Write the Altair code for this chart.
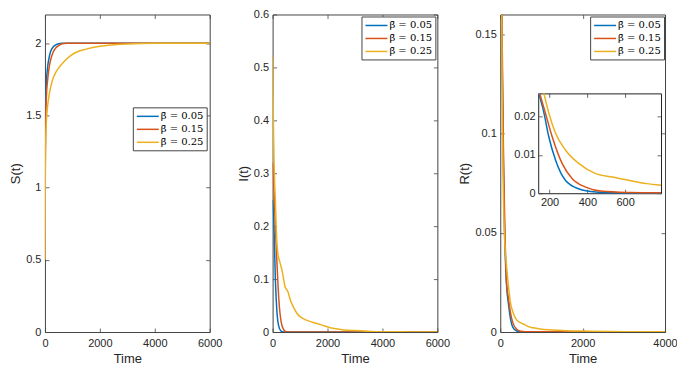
import altair as alt
import pandas as pd

SERIES = ["β̄ = 0.05", "β̄ = 0.15", "β̄ = 0.25"]
COLORS = ["#0072BD", "#D95319", "#EDB120"]

# ---- S(t) ----
s_t_b = [0, 10, 25, 50, 100, 150, 200, 300, 400, 500, 600, 6000]
s_v_b = [0.5, 1.2, 1.55, 1.72, 1.84, 1.9, 1.94, 1.975, 1.99, 1.997, 2.0, 2.0]
s_t_r = [0, 10, 25, 50, 100, 150, 200, 300, 400, 500, 600, 800, 6000]
s_v_r = [0.5, 1.1, 1.45, 1.62, 1.75, 1.83, 1.88, 1.94, 1.97, 1.985, 1.995, 2.0, 2.0]
s_t_y = [0, 10, 25, 50, 100, 150, 200, 300, 400, 500, 700, 900, 1100, 1500, 2000, 2500, 3000, 4000, 6000]
s_v_y = [0.5, 1.0, 1.3, 1.45, 1.57, 1.64, 1.69, 1.76, 1.8, 1.83, 1.875, 1.91, 1.935, 1.96, 1.98, 1.99, 1.996, 2.0, 2.0]

# ---- I(t) ----
i_t_b = [0, 50, 100, 133, 170, 220, 300, 400, 6000]
i_v_b = [0.25, 0.2, 0.1, 0.06, 0.03, 0.012, 0.002, 0.0, 0.0]
i_t_r = [0, 50, 100, 150, 200, 229, 270, 320, 400, 470, 600, 6000]
i_v_r = [0.32, 0.27, 0.2, 0.14, 0.085, 0.06, 0.035, 0.017, 0.005, 0.001, 0.0, 0.0]
i_t_y = [0, 15, 30, 50, 75, 100, 130, 170, 220, 260, 300, 350, 400, 450, 500, 550, 650, 750,
         890, 1000, 1130, 1300, 1615, 1800, 1980, 2300, 2570, 3170, 3600, 4000, 5000, 6000]
i_v_y = [0.52, 0.45, 0.39, 0.33, 0.28, 0.25, 0.2, 0.158, 0.14, 0.133, 0.125, 0.115, 0.1, 0.086, 0.081, 0.077, 0.06, 0.048,
         0.035, 0.029, 0.025, 0.021, 0.016, 0.013, 0.01, 0.006, 0.004, 0.0025, 0.0012, 0.0006, 0.0002, 0.0001]

# ---- R(t) ----
r_t_b = [0, 25, 50, 75, 100, 150, 200, 250, 300, 400, 500, 4000]
r_v_b = [0.3, 0.2, 0.13, 0.085, 0.055, 0.0245, 0.014, 0.0065, 0.0026, 0.0005, 0.0001, 0.0]
r_t_r = [0, 25, 50, 75, 100, 150, 200, 250, 300, 400, 500, 700, 4000]
r_v_r = [0.3, 0.21, 0.14, 0.095, 0.065, 0.0257, 0.017, 0.0095, 0.005, 0.0014, 0.0004, 0.0001, 0.0]
r_t_y = [0, 25, 50, 75, 100, 150, 200, 250, 300, 400, 500, 600, 700, 800, 1000, 1500, 2000, 3000, 4000]
r_v_y = [0.35, 0.2, 0.11, 0.07, 0.05, 0.034, 0.023, 0.0145, 0.0105, 0.006, 0.0046, 0.0036, 0.0026, 0.0021,
         0.0014, 0.0008, 0.0005, 0.0002, 0.0001]

# ---- R(t) inset (zoom) ----
z_t_b = [143, 170, 196, 232, 285, 356, 445, 534, 623, 790]
z_v_b = [0.026, 0.021, 0.0147, 0.0086, 0.0033, 0.0011, 0.0003, 0.0001, 0.00005, 0.0]
z_t_r = [148, 178, 214, 267, 320, 391, 480, 623, 790]
z_v_r = [0.026, 0.0209, 0.0147, 0.0077, 0.0038, 0.0016, 0.0005, 0.0002, 0.0001]
z_t_y = [170, 196, 232, 285, 356, 445, 534, 623, 712, 790]
z_v_y = [0.026, 0.0209, 0.0156, 0.0112, 0.0077, 0.0051, 0.0042, 0.0033, 0.0025, 0.0021]


def long_df(ts, vs):
    rows = []
    for k, (t, v) in enumerate(zip(ts, vs)):
        for a, b in zip(t, v):
            rows.append({"series": SERIES[k], "k": k, "t": a, "v": b})
    return pd.DataFrame(rows)


W, H = 165, 318
TXT = "#262626"
FRAME = "#444444"
AXSTYLE = dict(labelFont="Liberation Sans", labelFontSize=11, labelColor=TXT,
               titleFont="Liberation Sans", titleFontSize=13, titleColor=TXT,
               titleFontWeight="normal", grid=False, labelFlush=False, labelOverlap=False)
TICK = dict(labels=False, grid=False, tickSize=4, tickColor=FRAME, tickWidth=0.8)
FMT = "~r"

color_scale = alt.Scale(domain=SERIES, range=COLORS)


def legend(lx, ly):
    return alt.Legend(orient="none", legendX=lx, legendY=ly, title=None,
                      symbolType="M-1,0H3.4", symbolSize=100, symbolStrokeWidth=1.5,
                      labelFont="DejaVu Serif", labelFontSize=10, labelColor="black",
                      strokeColor=FRAME, fillColor="white", padding=3, rowPadding=2,
                      labelOffset=13, offset=0)


def boxed(df, xs, ys, xticks, yticks, ytitle, leg, xr=None, yr=None, inset=False):
    """Lines plus MATLAB-like inward ticks on all four sides."""
    if inset:
        x0, x1 = xr
        yb, yt = yr
        lab_x = alt.Axis(orient="bottom", offset=-(H - yb), values=xticks, format=FMT, title=None,
                         ticks=False, domain=True, domainColor="#222222", labelPadding=3, **AXSTYLE)
        lab_y = alt.Axis(orient="left", offset=-x0, values=yticks, format=FMT, title=None,
                         ticks=False, domain=True, domainColor="#222222", labelPadding=3, **AXSTYLE)
        a_x = alt.Axis(orient="top", offset=-yb, values=xticks, title=None, domain=False, **TICK)
        a_y = alt.Axis(orient="right", offset=-(W - x0), values=yticks, title=None, domain=False, **TICK)
        b_x = alt.Axis(orient="bottom", offset=-(H - yt), values=xticks, title=None, domain=True,
                       domainColor="#222222", **TICK)
        b_y = alt.Axis(orient="left", offset=-x1, values=yticks, title=None, domain=True,
                       domainColor="#222222", **TICK)
    else:
        lab_x = alt.Axis(values=xticks, format=FMT, title="Time", ticks=False, domain=False,
                         labelPadding=6, titlePadding=4, **AXSTYLE)
        lab_y = alt.Axis(values=yticks, format=FMT, title=ytitle, ticks=False, domain=False,
                         labelPadding=4, titlePadding=3, **AXSTYLE)
        a_x = alt.Axis(orient="top", offset=-H, values=xticks, title=None, domain=False, **TICK)
        a_y = alt.Axis(orient="right", offset=-W, values=yticks, title=None, domain=False, **TICK)
        b_x = alt.Axis(orient="bottom", offset=-H, values=xticks, title=None, domain=False, **TICK)
        b_y = alt.Axis(orient="left", offset=-W, values=yticks, title=None, domain=False, **TICK)

    color = alt.Color("series:N", scale=color_scale, legend=leg)
    lines = alt.Chart(df).mark_line(strokeWidth=1.5, clip=True, interpolate="monotone").encode(
        x=alt.X("t:Q", scale=xs, axis=lab_x),
        y=alt.Y("v:Q", scale=ys, axis=lab_y),
        color=color,
        order=alt.Order("t:Q"),
    )
    ta = alt.Chart(df).mark_point(opacity=0, size=1, clip=True).encode(
        x=alt.X("t:Q", scale=xs, axis=a_x), y=alt.Y("v:Q", scale=ys, axis=a_y))
    tb = alt.Chart(df).mark_point(opacity=0, size=1, clip=True).encode(
        x=alt.X("t:Q", scale=xs, axis=b_x), y=alt.Y("v:Q", scale=ys, axis=b_y))
    return alt.layer(lines, ta, tb).resolve_axis(x="independent", y="independent")


dfS = long_df([s_t_b, s_t_r, s_t_y], [s_v_b, s_v_r, s_v_y])
dfI = long_df([i_t_b, i_t_r, i_t_y], [i_v_b, i_v_r, i_v_y])
dfR = long_df([r_t_b, r_t_r, r_t_y], [r_v_b, r_v_r, r_v_y])
dfZ = long_df([z_t_b, z_t_r, z_t_y], [z_v_b, z_v_r, z_v_y])

pS = boxed(dfS, alt.Scale(domain=[0, 6000], nice=False), alt.Scale(domain=[0, 2.2], nice=False),
           [0, 2000, 4000, 6000], [0, 0.5, 1, 1.5, 2], "S(t)", legend(88, 93)).properties(width=W, height=H)

pI = boxed(dfI, alt.Scale(domain=[0, 6000], nice=False), alt.Scale(domain=[0, 0.6], nice=False),
           [0, 2000, 4000, 6000], [0, 0.1, 0.2, 0.3, 0.4, 0.5, 0.6], "I(t)", legend(89, 2)).properties(width=W, height=H)

pRmain = boxed(dfR, alt.Scale(domain=[0, 4000], nice=False), alt.Scale(domain=[0, 0.16], nice=False),
               [0, 2000, 4000], [0, 0.05, 0.1, 0.15], "R(t)", legend(90, 2))

IX = (38, 161)
IY = (179, 79)
pRinset = boxed(dfZ, alt.Scale(domain=[140, 790], nice=False, range=list(IX)),
                alt.Scale(domain=[0, 0.026], nice=False, range=list(IY)),
                [200, 400, 600], [0, 0.01, 0.02], None, None, xr=IX, yr=IY, inset=True)

pR = alt.layer(pRmain, pRinset).resolve_scale(x="independent", y="independent").properties(width=W, height=H)

chart = alt.hconcat(pS, pI, pR, spacing=63, bounds="flush").resolve_legend(color="independent").properties(
    autosize=alt.AutoSizeParams(type="none"),
    padding={"left": 37, "top": 6, "right": 633, "bottom": 354},
    background="white",
).configure_view(stroke=FRAME, strokeWidth=1)

chart.save("out.html", embed_options={"renderer": "svg", "actions": False})
